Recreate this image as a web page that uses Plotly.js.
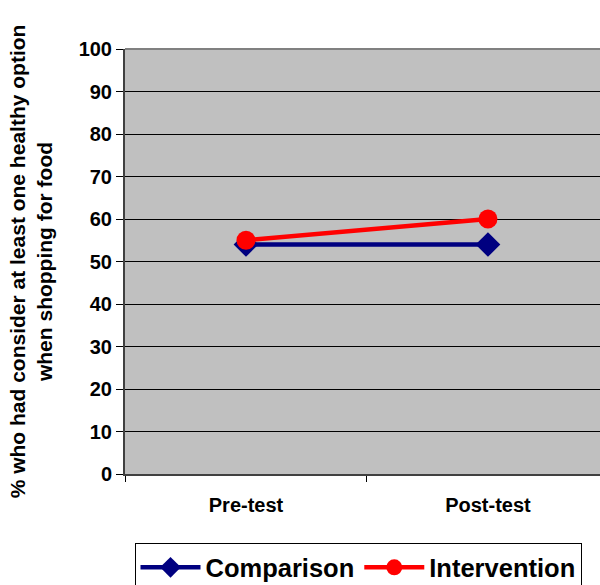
<!DOCTYPE html>
<html>
<head>
<meta charset="utf-8">
<script src="https://cdn.plot.ly/plotly-3.0.1.min.js"></script>
<style>html,body{margin:0;padding:0;background:#fff;}#chart{width:600px;height:585px;}</style>
</head>
<body>
<div id="chart"></div>
<script>
const categories = ["Pre-test", "Post-test"];
const comparison = [54, 54];
const intervention = [55, 60];
const yTickVals = [0, 10, 20, 30, 40, 50, 60, 70, 80, 90, 100];

const traces = [
  {
    x: categories, y: comparison, name: "Comparison", type: "scatter", mode: "lines+markers",
    line: {color: "#000080", width: 4.5},
    marker: {symbol: "diamond", size: 19, color: "#000080"}
  },
  {
    x: categories, y: intervention, name: "Intervention", type: "scatter", mode: "lines+markers",
    line: {color: "#FF0000", width: 4.5},
    marker: {symbol: "circle", size: 19, color: "#FF0000"}
  }
];

const layout = {
  width: 600, height: 585,
  margin: {l: 125, r: 0, t: 49, b: 111, autoexpand: false},
  paper_bgcolor: "#ffffff",
  plot_bgcolor: "#C0C0C0",
  font: {family: "Arial, Liberation Sans, sans-serif", color: "#000", size: 15},
  showlegend: true,
  legend: {
    orientation: "h", x: 0.02, xanchor: "left", y: -0.163, yanchor: "top",
    bordercolor: "#000", borderwidth: 1, bgcolor: "#fff",
    font: {size: 25.5, family: "Arial, Liberation Sans, sans-serif", weight: "bold", color: "#000"},
    itemwidth: 60, tracegroupgap: 0
  },
  xaxis: {
    type: "category",
    range: [-0.5, 1.463],
    tickson: "boundaries",
    ticks: "outside", ticklen: 6, tickcolor: "#000", tickwidth: 1,
    ticklabelstandoff: 12,
    showline: true, linecolor: "#404040", linewidth: 2,
    showgrid: false, zeroline: false,
    tickfont: {size: 20, weight: "bold", color: "#000"},
    automargin: false,
    fixedrange: true
  },
  yaxis: {
    range: [0, 100],
    tickvals: yTickVals,
    ticks: "outside", ticklen: 7, tickcolor: "#000", tickwidth: 1,
    showline: true, linecolor: "#404040", linewidth: 2,
    showgrid: true, gridcolor: "#000", gridwidth: 1,
    zeroline: false,
    tickfont: {size: 20, weight: "bold", color: "#000"},
    title: {
      text: "% who had consider at least one healthy option<br>when shopping for food",
      font: {size: 21, weight: "bold", color: "#000"},
      standoff: 20
    },
    automargin: false,
    fixedrange: true
  },
  shapes: [
    {type: "line", xref: "paper", yref: "paper", x0: 0, x1: 1, y0: 1, y1: 1,
     line: {color: "#808080", width: 2}}
  ]
};

Plotly.newPlot("chart", traces, layout, {displayModeBar: false, staticPlot: true});
</script>
</body>
</html>
